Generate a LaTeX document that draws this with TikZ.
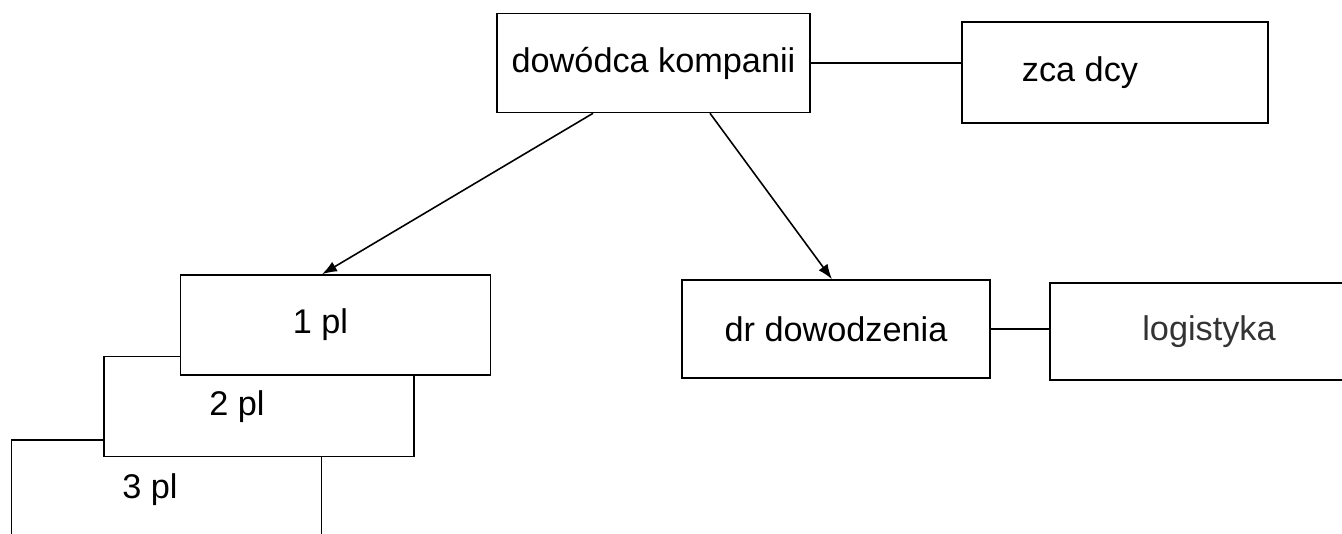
\documentclass[tikz,border=0pt]{standalone}
\usepackage{fontspec}
\setmainfont{Liberation Sans}
\usetikzlibrary{arrows.meta}

\begin{document}
\begin{tikzpicture}[x=0.02cm, y=-0.02cm]
        \tikzstyle{every node}=[draw, line width=0.9pt, fill=white, inner sep=0pt,
            font=\fontsize{19.5}{23}\selectfont]
        \tikzstyle{unit}=[minimum width=6.2cm, minimum height=2cm]

        \useasboundingbox (0,0) rectangle (1342,534);

        % top
        \node   (dk)    [minimum width=6.26cm, minimum height=1.98cm] at (653.5,63) {dowódca kompanii};
        \node   (zca)   [minimum width=6.12cm, minimum height=2.02cm,
                         label={[xshift=-0.7cm, draw=none, fill=none]center:zca dcy}] at (1115,72.5) {};

        % platoons
        \node   (p3)    [unit, label={[xshift=-0.33cm, draw=none, fill=none]center:3 pl}] at (166.5,490) {};
        \node   (p2)    [unit, label={[xshift=-0.44cm, draw=none, fill=none]center:2 pl}] at (259,406.5) {};
        \node   (p1)    [unit, label={[xshift=-0.3cm, draw=none, fill=none]center:1 pl}] at (335.5,325) {};

        % right side
        \node   (dd)    [minimum width=6.16cm, minimum height=1.96cm] at (836,329) {dr dowodzenia};
        \node   (log)   [minimum width=6.2cm, minimum height=1.94cm,
                         label={[xshift=0.08cm, draw=none, fill=none, text=black!80]center:logistyka}] at (1205,331.5) {};

        \path[line width=0.9pt]  (dk.east) edge (dk.east -| zca.west)
                                 (dd.east) edge (dd.east -| log.west);

        \path[-{Latex[length=0.3cm, width=0.22cm]}, line width=0.9pt]
                ([xshift=-1.21cm]dk.south) edge ([xshift=-0.27cm]p1.north)
                ([xshift=1.13cm]dk.south) edge ([xshift=-0.08cm]dd.north);

    \end{tikzpicture}
\end{document}
